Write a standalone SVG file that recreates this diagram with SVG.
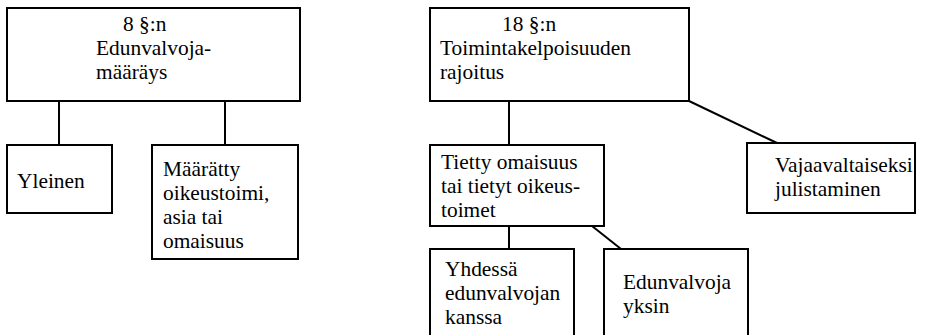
<svg xmlns="http://www.w3.org/2000/svg" width="933" height="335" viewBox="0 0 933 335">
<style>
.box{fill:#fff;stroke:#000;stroke-width:2}
.ln{stroke:#000;stroke-width:2;fill:none}
.t{font-family:'Liberation Serif','Times New Roman',serif;font-size:21.4px;fill:#000}
</style>
<rect width="933" height="335" fill="#fff"/>
<g id="connectors">
<line class="ln" x1="59" y1="101" x2="59" y2="145"/>
<line class="ln" x1="225" y1="101" x2="225" y2="145"/>
<line class="ln" x1="509" y1="101" x2="509" y2="145"/>
<line class="ln" x1="689" y1="101" x2="777" y2="143"/>
<line class="ln" x1="509" y1="226" x2="509" y2="249"/>
<line class="ln" x1="592" y1="226" x2="621" y2="249"/>
</g>
<g id="n8" class="t">
<rect class="box" x="7" y="8" width="293" height="93"/>
<text x="123" y="31">8 §:n</text>
<text x="96" y="55">Edunvalvoja-</text>
<text x="96" y="79">määräys</text>
</g>
<g id="yleinen" class="t">
<rect class="box" x="7" y="145" width="105" height="68"/>
<text x="17" y="188">Yleinen</text>
</g>
<g id="maaratty" class="t">
<rect class="box" x="152" y="145" width="146" height="114"/>
<text x="163" y="176">Määrätty</text>
<text x="163" y="200">oikeustoimi,</text>
<text x="163" y="224">asia tai</text>
<text x="163" y="248">omaisuus</text>
</g>
<g id="n18" class="t">
<rect class="box" x="430" y="8" width="259" height="93"/>
<text x="502" y="31">18 §:n</text>
<text x="440" y="55">Toimintakelpoisuuden</text>
<text x="440" y="79">rajoitus</text>
</g>
<g id="tietty" class="t">
<rect class="box" x="430" y="145" width="174" height="81"/>
<text x="441" y="169">Tietty omaisuus</text>
<text x="441" y="193">tai tietyt oikeus-</text>
<text x="441" y="217">toimet</text>
</g>
<g id="vajaa" class="t">
<rect class="box" x="747" y="143" width="168" height="70"/>
<text x="775" y="172">Vajaavaltaiseksi</text>
<text x="775" y="196">julistaminen</text>
</g>
<g id="yhdessa" class="t">
<rect class="box" x="430" y="249" width="144" height="100"/>
<text x="445" y="276">Yhdessä</text>
<text x="445" y="300">edunvalvojan</text>
<text x="445" y="324">kanssa</text>
</g>
<g id="yksin" class="t">
<rect class="box" x="604" y="249" width="144" height="100"/>
<text x="623" y="289">Edunvalvoja</text>
<text x="623" y="313">yksin</text>
</g>
</svg>
